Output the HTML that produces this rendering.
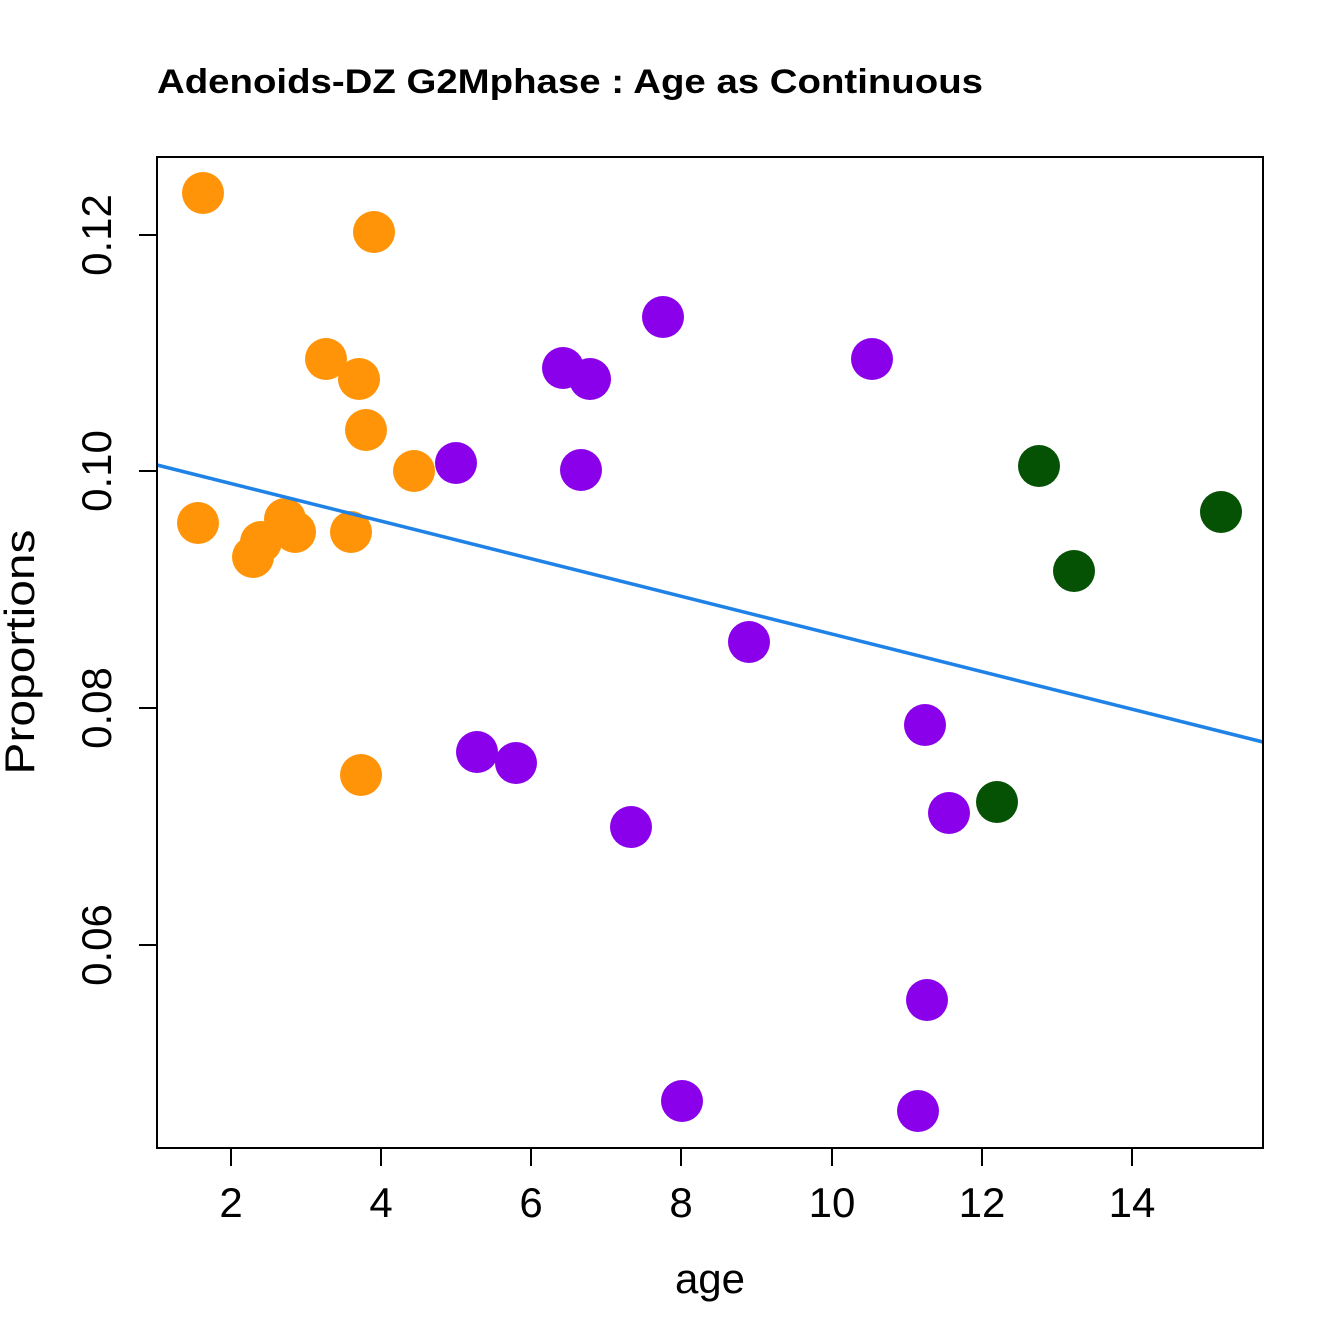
<!DOCTYPE html>
<html><head><style>body{margin:0;background:#fff}svg{display:block}</style></head><body>
<svg width="1344" height="1344" viewBox="0 0 1344 1344" xmlns="http://www.w3.org/2000/svg" font-family="Liberation Sans, sans-serif">
<rect width="1344" height="1344" fill="#fff"/>
<text x="157" y="93" font-size="34" font-weight="bold" textLength="826" lengthAdjust="spacingAndGlyphs">Adenoids-DZ G2Mphase : Age as Continuous</text>
<g fill="#ff9408">
<circle cx="203" cy="193" r="21"/><circle cx="374" cy="232" r="21"/><circle cx="326" cy="359" r="21"/><circle cx="359" cy="379" r="21"/><circle cx="366" cy="430" r="21"/><circle cx="414" cy="471" r="21"/><circle cx="198" cy="523" r="21"/><circle cx="261" cy="542" r="21"/><circle cx="253" cy="557" r="21"/><circle cx="285" cy="519" r="21"/><circle cx="295" cy="532" r="21"/><circle cx="351" cy="532" r="21"/><circle cx="361" cy="775" r="21"/>
</g>
<g fill="#8a00ea">
<circle cx="456" cy="463" r="21"/><circle cx="563" cy="368" r="21"/><circle cx="590" cy="379" r="21"/><circle cx="663" cy="317" r="21"/><circle cx="581" cy="470" r="21"/><circle cx="872" cy="359" r="21"/><circle cx="749" cy="642" r="21"/><circle cx="925" cy="725" r="21"/><circle cx="949" cy="813" r="21"/><circle cx="477" cy="752" r="21"/><circle cx="516" cy="763" r="21"/><circle cx="631" cy="827" r="21"/><circle cx="927" cy="1000" r="21"/><circle cx="682" cy="1101" r="21"/><circle cx="918" cy="1111" r="21"/>
</g>
<g fill="#055205">
<circle cx="1039" cy="466" r="21"/><circle cx="1221" cy="512" r="21"/><circle cx="1074" cy="571" r="21"/><circle cx="997" cy="802" r="21"/>
</g>
<line x1="157" y1="465" x2="1263" y2="742" stroke="#1f82e6" stroke-width="3.5"/>
<rect x="157" y="157" width="1106" height="991" fill="none" stroke="#000" stroke-width="2"/>
<g stroke="#000" stroke-width="2">
<line x1="231" y1="1148" x2="231" y2="1166"/><line x1="381" y1="1148" x2="381" y2="1166"/><line x1="531" y1="1148" x2="531" y2="1166"/><line x1="681" y1="1148" x2="681" y2="1166"/><line x1="832" y1="1148" x2="832" y2="1166"/><line x1="982" y1="1148" x2="982" y2="1166"/><line x1="1132" y1="1148" x2="1132" y2="1166"/>
<line x1="139" y1="235" x2="157" y2="235"/><line x1="139" y1="471" x2="157" y2="471"/><line x1="139" y1="708" x2="157" y2="708"/><line x1="139" y1="945" x2="157" y2="945"/>
</g>
<g font-size="42" text-anchor="middle">
<text x="231" y="1217">2</text><text x="381" y="1217">4</text><text x="531" y="1217">6</text><text x="681" y="1217">8</text><text x="832" y="1217">10</text><text x="982" y="1217">12</text><text x="1132" y="1217">14</text>
<text transform="translate(111,235) rotate(-90)">0.12</text>
<text transform="translate(111,471) rotate(-90)">0.10</text>
<text transform="translate(111,708) rotate(-90)">0.08</text>
<text transform="translate(111,945) rotate(-90)">0.06</text>
<text x="710" y="1293">age</text>
<text transform="translate(34,652) rotate(-90)" textLength="245" lengthAdjust="spacingAndGlyphs">Proportions</text>
</g>
</svg>
</body></html>
